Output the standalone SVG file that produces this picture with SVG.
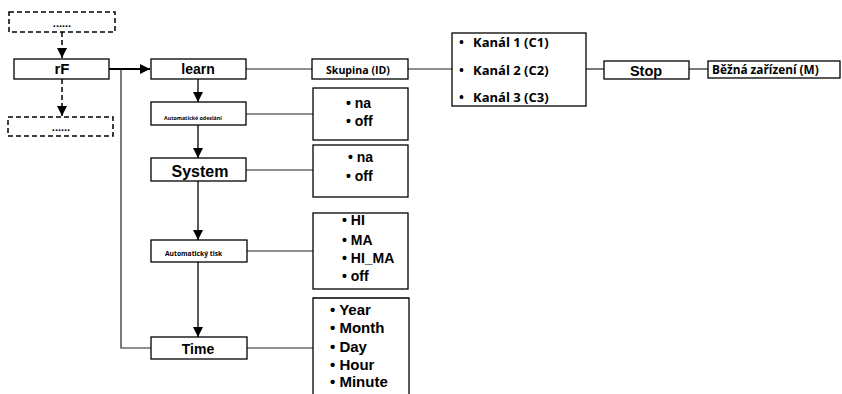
<svg xmlns="http://www.w3.org/2000/svg" width="842" height="394" viewBox="0 0 842 394">
<style>
.box{fill:#fff;stroke:#000;stroke-width:1.3}
.dbox{fill:#fff;stroke:#000;stroke-width:1.5;stroke-dasharray:5,3}
.ln{stroke:#222;stroke-width:1.2;fill:none}
.ar{stroke:#000;stroke-width:1.3;fill:none}
.dl{stroke:#000;stroke-width:1.5;stroke-dasharray:5,3;fill:none}
.a{font-family:"Liberation Sans",Arial,sans-serif;font-weight:bold;fill:#000}
.o{font-family:"Open Sans","Noto Sans",sans-serif;font-weight:bold;fill:#000}
</style>
<defs>
<marker id="ah" viewBox="0 0 10 10" refX="10" refY="5" markerWidth="10" markerHeight="10" markerUnits="userSpaceOnUse" orient="auto">
<path d="M0,0 L10,5 L0,10 Z" fill="#000"/>
</marker>
</defs>
<g id="connectors">
<line class="dl" x1="62" y1="32" x2="62" y2="58" marker-end="url(#ah)"/>
<line class="dl" x1="62" y1="79" x2="62" y2="116" marker-end="url(#ah)"/>
<line x1="109" y1="69" x2="150" y2="69" stroke="#000" stroke-width="2" marker-end="url(#ah)"/>
<polyline class="ln" points="121,69 121,348 151,348"/>
<line class="ar" x1="198" y1="79" x2="198" y2="102" marker-end="url(#ah)"/>
<line class="ar" x1="198" y1="125" x2="198" y2="158" marker-end="url(#ah)"/>
<line class="ar" x1="198" y1="181" x2="198" y2="240" marker-end="url(#ah)"/>
<line class="ar" x1="198" y1="262" x2="198" y2="337" marker-end="url(#ah)"/>
<line class="ln" x1="246" y1="69" x2="312" y2="69"/>
<line class="ln" x1="408" y1="69" x2="452" y2="69"/>
<line class="ln" x1="586" y1="69" x2="604" y2="69"/>
<line class="ln" x1="689" y1="69" x2="708" y2="69"/>
<line class="ln" x1="246" y1="114" x2="313" y2="114"/>
<line class="ln" x1="246" y1="170" x2="313" y2="170"/>
<line class="ln" x1="247" y1="251" x2="313" y2="251"/>
<line class="ln" x1="247" y1="348" x2="313" y2="348"/>
</g>
<g id="top-dots">
<rect class="dbox" x="9" y="12" width="106" height="20"/>
<text class="a" x="62" y="27" font-size="11" text-anchor="middle">......</text>
</g>
<g id="rF">
<rect class="box" x="14" y="59" width="95" height="20"/>
<text class="a" x="62" y="74" font-size="15" text-anchor="middle">rF</text>
</g>
<g id="bottom-dots">
<rect class="dbox" x="8" y="117" width="105" height="19"/>
<text class="a" x="61" y="131" font-size="11" text-anchor="middle">......</text>
</g>
<g id="learn">
<rect class="box" x="151" y="59" width="95" height="20"/>
<text class="a" x="198" y="74" font-size="14" text-anchor="middle">learn</text>
</g>
<g id="skupina">
<rect class="box" x="312" y="59" width="96" height="20"/>
<text class="o" x="326" y="74" font-size="10.6">Skupina (ID)</text>
</g>
<g id="kanaly">
<rect class="box" x="452" y="33" width="134" height="73"/>
<text class="o" x="459" y="47" font-size="13">•</text>
<text class="o" x="473" y="47" font-size="13">Kanál 1 (C1)</text>
<text class="o" x="459" y="75" font-size="13">•</text>
<text class="o" x="473" y="75" font-size="13">Kanál 2 (C2)</text>
<text class="o" x="459" y="102" font-size="13">•</text>
<text class="o" x="473" y="102" font-size="13">Kanál 3 (C3)</text>
</g>
<g id="stop">
<rect class="box" x="604" y="61" width="85" height="18"/>
<text class="a" x="646" y="76" font-size="14.5" text-anchor="middle">Stop</text>
</g>
<g id="bezna">
<rect class="box" x="708" y="61" width="132" height="17"/>
<text class="o" x="712" y="74" font-size="11.8">Běžná zařízení (M)</text>
</g>
<g id="auto-odeslani">
<rect class="box" x="151" y="102" width="95" height="23"/>
<text class="o" x="164" y="120" font-size="5.3">Automatické odeslání</text>
</g>
<g id="opt1">
<rect class="box" x="313" y="88" width="95" height="52"/>
<text class="a" x="346" y="108" font-size="14">• na</text>
<text class="a" x="346" y="126" font-size="14">• off</text>
</g>
<g id="system">
<rect class="box" x="151" y="158" width="95" height="23"/>
<text class="a" x="200" y="177" font-size="16" text-anchor="middle">System</text>
</g>
<g id="opt2">
<rect class="box" x="313" y="145" width="95" height="52"/>
<text class="a" x="348" y="162" font-size="14">• na</text>
<text class="a" x="346" y="181" font-size="14">• off</text>
</g>
<g id="auto-tisk">
<rect class="box" x="151" y="240" width="96" height="22"/>
<text class="o" x="165" y="256" font-size="6.7">Automatický tisk</text>
</g>
<g id="opt3">
<rect class="box" x="313" y="213" width="95" height="76"/>
<text class="a" x="342" y="225" font-size="14">• HI</text>
<text class="a" x="342" y="245" font-size="14">• MA</text>
<text class="a" x="342" y="263" font-size="14">• HI_MA</text>
<text class="a" x="342" y="281" font-size="14">• off</text>
</g>
<g id="time">
<rect class="box" x="151" y="337" width="96" height="22"/>
<text class="a" x="198" y="354" font-size="14" text-anchor="middle">Time</text>
</g>
<g id="opt4">
<path class="box" d="M313,400 L313,298 L409,298 L409,400"/>
<text class="a" x="330" y="315" font-size="15">• Year</text>
<text class="a" x="330" y="333" font-size="15">• Month</text>
<text class="a" x="330" y="352" font-size="15">• Day</text>
<text class="a" x="330" y="370" font-size="15">• Hour</text>
<text class="a" x="330" y="387" font-size="15">• Minute</text>
</g>
</svg>
